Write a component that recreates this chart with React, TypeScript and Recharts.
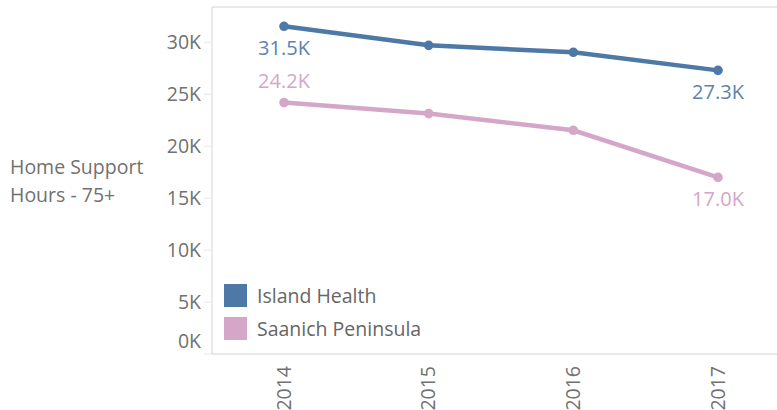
import React from 'react'
import { LineChart, Line, XAxis, YAxis, ReferenceLine } from 'recharts'

const years = ['2014', '2015', '2016', '2017']
const islandHealth = [31540, 29710, 29040, 27300]
const saanichPeninsula = [24200, 23140, 21530, 17000]
const yTicks = [0, 5000, 10000, 15000, 20000, 25000, 30000]
const yMax = 33400

const BLUE = '#4e79a7'
const PINK = '#d4a6c8'
const FONT = '"Open Sans", Lato, sans-serif'
const TEXT = '#717171'

const data = years.map((year, i) => ({
  year,
  island: islandHealth[i],
  saanich: saanichPeninsula[i],
}))

const fmtK = (v: number) => `${(v / 1000).toFixed(1)}K`

function YTick({ x, y, payload }: any) {
  const shift = payload.value === 0 ? -13 : 0
  return (
    <text x={x} y={y + shift} dy="0.35em" textAnchor="end" fill={TEXT} fontSize={19.5} fontFamily={FONT}>
      {`${payload.value / 1000}K`}
    </text>
  )
}

function XTick({ x, payload }: any) {
  return (
    <g transform={`translate(${x},366)`}>
      <text transform="rotate(-90)" dy="0.35em" textAnchor="end" fill={TEXT} fontSize={19.5} fontFamily={FONT}>
        {payload.value}
      </text>
    </g>
  )
}

const makeLabel = (color: string, offsets: Record<number, number>) => (props: any) => {
  const { x, y, index, value } = props
  if (!(index in offsets)) return null
  return (
    <text
      key={`lbl-${color}-${index}`}
      x={x}
      y={y + offsets[index]}
      dy="0.35em"
      textAnchor="middle"
      fill={color}
      fontSize={20}
      fontFamily={FONT}
    >
      {fmtK(value)}
    </text>
  )
}

const legendItems = [
  { name: 'Island Health', color: BLUE },
  { name: 'Saanich Peninsula', color: PINK },
]

export default function App() {
  return (
    <div style={{ position: 'absolute', left: 0, top: 0, width: 777, height: 410, overflow: 'hidden', background: '#fff' }}>
      <LineChart width={777} height={410} data={data} margin={{ top: 7, right: 0, bottom: 0, left: 0 }}>
        <XAxis
          dataKey="year"
          padding={{ left: 72, right: 59 }}
          axisLine={{ stroke: '#d4d4d4' }}
          tickLine={false}
          tick={<XTick />}
          height={56}
          interval={0}
        />
        <YAxis
          width={212}
          domain={[0, yMax]}
          ticks={yTicks}
          allowDataOverflow
          axisLine={{ stroke: '#d4d4d4' }}
          tickLine={{ stroke: '#e6e6e6' }}
          tickSize={8}
          tickMargin={3}
          tick={<YTick />}
        />
        <ReferenceLine y={yMax} stroke="#d4d4d4" />
        <Line
          dataKey="island"
          stroke={BLUE}
          strokeWidth={4.5}
          dot={{ r: 4.8, fill: BLUE, stroke: BLUE, strokeWidth: 0 }}
          activeDot={false}
          isAnimationActive={false}
          label={makeLabel('#5b83ae', { 0: 22, 3: 22 })}
        />
        <Line
          dataKey="saanich"
          stroke={PINK}
          strokeWidth={4.5}
          dot={{ r: 4.8, fill: PINK, stroke: PINK, strokeWidth: 0 }}
          activeDot={false}
          isAnimationActive={false}
          label={makeLabel(PINK, { 0: -22, 3: 22 })}
        />
      </LineChart>
      <div
        style={{
          position: 'absolute',
          left: 10,
          top: 153,
          fontFamily: FONT,
          fontSize: 19.5,
          lineHeight: '28px',
          color: TEXT,
        }}
      >
        Home Support
        <br />
        Hours - 75+
      </div>
      <div style={{ position: 'absolute', left: 224, top: 284, fontFamily: FONT, fontSize: 19.5, color: '#666666' }}>
        {legendItems.map((it) => (
          <div key={it.name} style={{ display: 'flex', alignItems: 'center', height: 23, marginBottom: 10 }}>
            <div style={{ width: 23, height: 23, background: it.color, marginRight: 10 }} />
            <span>{it.name}</span>
          </div>
        ))}
      </div>
    </div>
  )
}
